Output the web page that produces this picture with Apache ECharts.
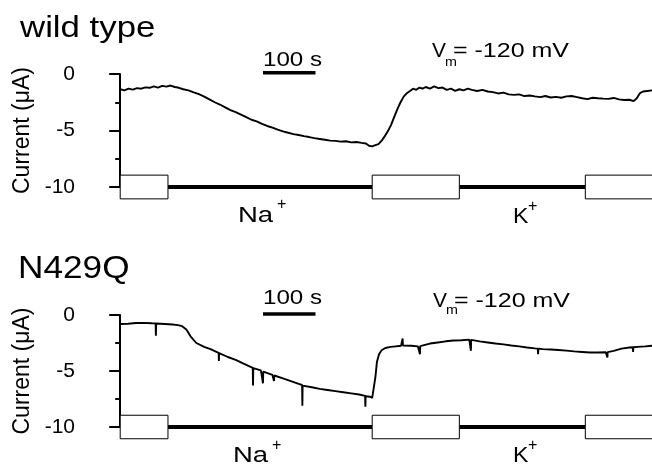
<!DOCTYPE html>
<html>
<head>
<meta charset="utf-8">
<script src="https://cdn.jsdelivr.net/npm/echarts@6/dist/echarts.min.js"></script>
<style>html,body{margin:0;padding:0;background:#fff}#c{width:652px;height:467px}</style>
</head>
<body>
<div id="c"></div>
<script>
// ---- data (time in s, current in µA) ----
const wtTime = [0,8,16,24,32,40,48,56,64,72,80,88,96,104,112,120,130,140,150,160,170,180,190,200,210,220,230,240,250,260,270,280,290,300,310,320,330,340,350,360,370,380,390,400,410,420,430,440,450,460,468,474,480,486,492,498,504,510,516,522,528,534,540,546,552,558,564,570,576,582,590,598,606,614,622,630,638,646,654,662,670,680,690,700,710,720,730,740,750,760,770,780,790,800,810,820,830,840,850,860,870,880,890,900,910,920,930,940,950,960,970,978,984,990,996,1004,1013];
const wtCurrent = [-1.35,-1.45,-1.3,-1.38,-1.25,-1.3,-1.18,-1.22,-1.1,-1.2,-1.05,-1.12,-1.02,-1.15,-1.22,-1.35,-1.45,-1.62,-1.78,-2.0,-2.25,-2.5,-2.7,-2.95,-3.2,-3.38,-3.6,-3.82,-4.05,-4.2,-4.42,-4.6,-4.75,-4.92,-5.08,-5.2,-5.32,-5.4,-5.5,-5.58,-5.68,-5.75,-5.82,-5.9,-5.92,-5.98,-5.95,-6.05,-6.02,-6.1,-6.15,-6.35,-6.4,-6.3,-6.2,-5.9,-5.5,-5.05,-4.5,-3.8,-3.1,-2.5,-2.0,-1.7,-1.5,-1.3,-1.4,-1.2,-1.3,-1.15,-1.3,-1.1,-1.25,-1.2,-1.4,-1.3,-1.5,-1.35,-1.45,-1.3,-1.4,-1.5,-1.4,-1.55,-1.6,-1.72,-1.65,-1.8,-1.85,-1.8,-1.95,-1.9,-1.98,-2.05,-1.95,-2.08,-2.02,-2.1,-1.98,-1.95,-2.05,-2.15,-2.22,-2.1,-2.15,-2.18,-2.2,-2.12,-2.25,-2.3,-2.28,-2.4,-2.15,-1.7,-1.55,-1.5,-1.45];

const nqTime = [0,15,30,45,60,67.5,68,68.5,85,100,110,118,126,134,145,160,172,187.5,188,188.5,205,220,235,252.5,253,253.5,268,271.5,272,272.5,290,292.5,293,293.5,310,325,340,346.5,347,347.5,365,380,395,410,425,440,455,466.5,467,467.5,476,480,483,486,489,493,498,505,515,525,535,537.5,538,538.5,555,567,570.5,571,571.5,590,605,620,635,650,665,667.5,668,668.5,685,700,715,730,745,760,775,790,795.5,796,796.5,805,820,835,850,865,880,895,910,925,927.5,928,928.5,940,955,970,976.5,977,977.5,985,1000,1013];
const nqCurrent = [-0.8,-0.78,-0.72,-0.7,-0.74,-0.75,-1.85,-0.76,-0.8,-0.85,-0.9,-1.0,-1.3,-1.9,-2.5,-2.85,-3.05,-3.38,-4.1,-3.4,-3.75,-4.0,-4.35,-4.72,-6.3,-4.75,-4.95,-5.0,-6.1,-5.05,-5.35,-5.38,-5.9,-5.4,-5.65,-5.9,-6.15,-6.25,-8.1,-6.3,-6.45,-6.6,-6.7,-6.8,-6.9,-7.0,-7.1,-7.22,-8.2,-7.25,-7.3,-7.4,-7.3,-5.6,-4.2,-3.5,-3.15,-2.95,-2.85,-2.8,-2.75,-2.75,-2.1,-2.72,-2.75,-2.8,-2.8,-3.5,-2.78,-2.55,-2.45,-2.35,-2.28,-2.25,-2.2,-2.2,-3.2,-2.22,-2.35,-2.45,-2.55,-2.62,-2.72,-2.8,-2.9,-2.98,-3.0,-3.5,-3.0,-3.05,-3.08,-3.12,-3.18,-3.25,-3.3,-3.35,-3.35,-3.33,-3.33,-3.8,-3.32,-3.2,-3.0,-2.9,-2.88,-3.3,-2.88,-2.85,-2.8,-2.75];

// perfusion protocol (s): open boxes = control solution, thick bars = test solution
const boxStart = [0, 480, 886];
const boxEnd = [91, 646, 1040];
const barStart = [91, 646];
const barEnd = [480, 886];
const scaleBar = [272, 372]; // 100 s
const yTicks = [0, -5, -10];

// ---- build ----
const chart = echarts.init(document.getElementById('c'), null, {renderer: 'canvas'});
const FONT = '"Liberation Sans", Arial, Helvetica, sans-serif';
const grids = [
  {left: 95, right: 0, top: 74, height: 113},
  {left: 95, right: 0, top: 315, height: 112}
];
const xMin = -48, xMax = 1013;

function yAx(i) {
  return {
    type: 'value', gridIndex: i, min: -10, max: 0, interval: 5,
    name: 'Current (μA)', nameLocation: 'middle', nameGap: 55, nameRotate: 90,
    nameTextStyle: {color: '#000', fontSize: 23, fontFamily: FONT},
    axisLine: {show: true, lineStyle: {color: '#000', width: 2}},
    axisTick: {show: true, length: 11, lineStyle: {color: '#000', width: 2}},
    minorTick: {show: true, splitNumber: 2, length: 5, lineStyle: {color: '#000', width: 2}},
    axisLabel: {color: '#000', fontSize: 21, fontFamily: FONT, margin: 20,
      formatter: v => yTicks.includes(v) ? String(v) : ''},
    splitLine: {show: false}
  };
}
function xAx(i) {
  return {type: 'value', gridIndex: i, min: xMin, max: xMax, show: false};
}

function boxSeries(i) {
  const data = boxStart.map((s, k) => [s, boxEnd[k]]);
  return {
    type: 'custom', xAxisIndex: i, yAxisIndex: i, clip: false, silent: true,
    data: data,
    renderItem: function (params, api) {
      const p0 = api.coord([api.value(0), -8.95]);
      const p1 = api.coord([Math.min(api.value(1), xMax + 20), -11.05]);
      return {
        type: 'rect',
        shape: {x: p0[0], y: p0[1], width: p1[0] - p0[0], height: p1[1] - p0[1]},
        style: {fill: '#fff', stroke: '#000', lineWidth: 1}
      };
    },
    z: 3
  };
}
function barSeries(i) {
  const out = [];
  barStart.forEach((s, k) => {
    out.push({
      type: 'line', xAxisIndex: i, yAxisIndex: i, symbol: 'none', silent: true,
      data: [[s, -10], [barEnd[k], -10]],
      lineStyle: {color: '#000', width: 4}, z: 2
    });
  });
  return out;
}
function traceSeries(i, t, v) {
  return {
    type: 'line', xAxisIndex: i, yAxisIndex: i, symbol: 'none', silent: true,
    data: t.map((x, k) => [x, v[k]]), clip: false,
    lineStyle: {color: '#000', width: 1.9}, z: 4
  };
}
function scaleSeries(i) {
  return {
    type: 'line', xAxisIndex: i, yAxisIndex: i, symbol: 'none', silent: true, clip: false,
    data: [[scaleBar[0], 0.1], [scaleBar[1], 0.1]],
    lineStyle: {color: '#000', width: 3.5}, z: 4
  };
}

function txt(text, x, y, size, sx, va) {
  return {
    type: 'text', x: x, y: y, scaleX: sx || 1, silent: true,
    style: {text: text, fontSize: size, fontFamily: FONT, fill: '#000',
      textAlign: 'left', textVerticalAlign: va || 'bottom'}
  };
}

const graphics = [
  txt('wild type', 20, 43, 29, 1.2),
  txt('N429Q', 18, 285, 32, 1.1),
  txt('100 s', 263, 71, 21, 1.15),
  txt('100 s', 263, 308.5, 21, 1.15),
  txt('V', 432, 61.5, 20, 1.05),
  txt('m', 445, 68.5, 13, 1.1),
  txt('= -120 mV', 453, 61.5, 20, 1.25),
  txt('V', 433, 311, 20, 1.05),
  txt('m', 446, 317, 13, 1.1),
  txt('= -120 mV', 454, 311, 20, 1.25),
  txt('Na', 238, 227, 22, 1.25),
  txt('+', 277, 205, 16, 1, 'middle'),
  txt('K', 513, 228, 22, 1.05),
  txt('+', 528, 207, 16, 1, 'middle'),
  txt('Na', 233, 466.5, 22, 1.25),
  txt('+', 272, 446, 16, 1, 'middle'),
  txt('K', 513, 466.5, 22, 1.05),
  txt('+', 528, 446, 16, 1, 'middle')
];

chart.setOption({
  animation: false,
  backgroundColor: '#fff',
  grid: grids,
  xAxis: [xAx(0), xAx(1)],
  yAxis: [yAx(0), yAx(1)],
  series: [
    boxSeries(0), ...barSeries(0), traceSeries(0, wtTime, wtCurrent), scaleSeries(0),
    boxSeries(1), ...barSeries(1), traceSeries(1, nqTime, nqCurrent), scaleSeries(1)
  ],
  graphic: graphics
});
</script>
</body>
</html>
